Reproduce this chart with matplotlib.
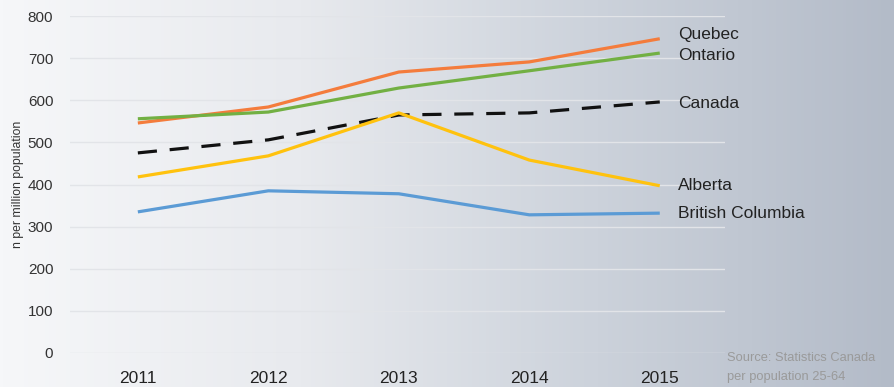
import numpy as np
import matplotlib
matplotlib.use("Agg")
import matplotlib.pyplot as plt
from matplotlib.colors import LinearSegmentedColormap

plt.rcParams["font.family"] = ["Liberation Sans", "DejaVu Sans"]

years = [2011, 2012, 2013, 2014, 2015]
quebec = [546, 584, 667, 691, 746]
ontario = [556, 572, 629, 670, 712]
canada = [475, 506, 565, 570, 596]
alberta = [418, 468, 570, 458, 397]
british_columbia = [335, 385, 378, 328, 332]

series = [
    ("Quebec", quebec, "#f47c3c", "-"),
    ("Ontario", ontario, "#72b043", "-"),
    ("Canada", canada, "#111111", (0, (6, 4))),
    ("Alberta", alberta, "#ffc20e", "-"),
    ("British Columbia", british_columbia, "#5b9bd5", "-"),
]
label_y = {"Quebec": 35, "Ontario": 55, "Canada": 103, "Alberta": 186, "British Columbia": 214}

fig = plt.figure(figsize=(8.95, 3.87), dpi=100)

# background gradient
bg = fig.add_axes([0, 0, 1, 1], zorder=-1)
cmap = LinearSegmentedColormap.from_list("bg", ["#f6f7f9", "#e8eaee", "#ccd2db", "#b3bbc8"])
grad = np.tile(np.linspace(0, 1, 256), (50, 1))
bg.imshow(grad, aspect="auto", cmap=cmap, extent=[0, 1, 0, 1])
bg.axis("off")

ax = fig.add_axes([70 / 895, 34 / 387, 655 / 895, 337 / 387])
ax.patch.set_alpha(0)
for name, vals, color, ls in series:
    ax.plot(years, vals, color=color, linestyle=ls, lw=2.3, solid_capstyle="butt", dash_capstyle="butt")

ax.set_xlim(2010.48, 2015.5)
ax.set_ylim(0, 800)
ax.set_yticks(range(0, 801, 100))
ax.set_xticks(years)
ax.grid(axis="y", color="#e2e4e8", lw=1)
ax.set_axisbelow(True)
for s in ax.spines.values():
    s.set_visible(False)
ax.tick_params(axis="both", length=0)
ax.tick_params(axis="y", pad=12, labelsize=11, labelcolor="#333333")
ax.tick_params(axis="x", pad=13, labelsize=12.5, labelcolor="#222222")
ax.set_ylabel("n per million population", fontsize=8.8, color="#333333", labelpad=3)

for name, vals, color, ls in series:
    fig.text(678 / 895, 1 - label_y[name] / 387, name, fontsize=12.5, color="#222222",
             ha="left", va="center")

fig.text(727 / 895, 1 - 358 / 387, "Source: Statistics Canada", fontsize=9.3, color="#9a9a9a",
         ha="left", va="center")
fig.text(727 / 895, 1 - 377 / 387, "per population 25-64", fontsize=9.3, color="#9a9a9a",
         ha="left", va="center")

fig.savefig("out.png", dpi=100)
